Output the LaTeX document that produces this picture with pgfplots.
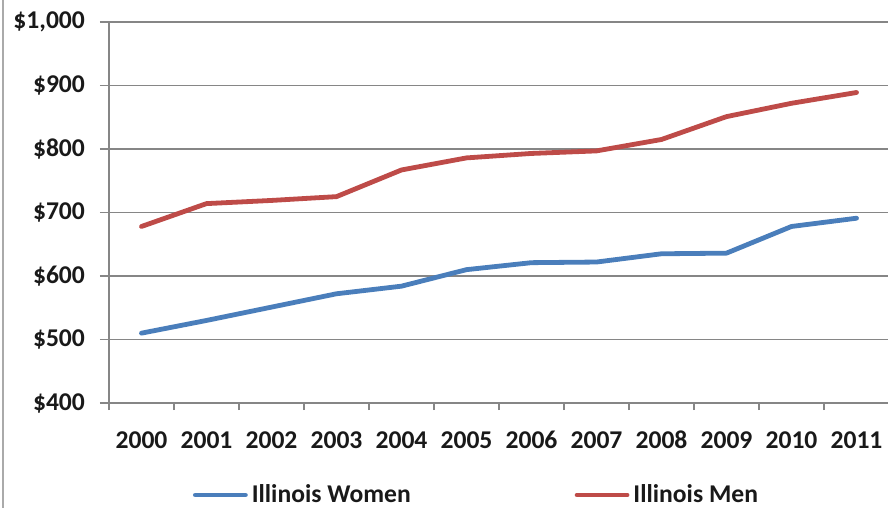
\documentclass[border=0pt]{standalone}
\usepackage{fontspec}
\setmainfont{Carlito}
\usepackage{pgfplots}
\pgfplotsset{compat=1.18}

\definecolor{womenblue}{RGB}{74,126,187}
\definecolor{menred}{RGB}{190,75,72}
\definecolor{gridgray}{RGB}{134,134,134}
\definecolor{txt}{RGB}{25,25,25}

\begin{document}
\begin{tikzpicture}
	\begin{axis}[
		scale only axis,
		width=390pt,
		height=190.5pt,
		xmin=-0.5, xmax=11.5,
		ymin=400, ymax=1000,
		xtick={0,...,11},
		xticklabels={2000,2001,2002,2003,2004,2005,2006,2007,2008,2009,2010,2011},
		minor xtick={-0.5,0.5,...,11.5},
		ytick={400,500,...,1000},
		major x tick style={draw=none},
		minor x tick style={gridgray, line width=0.6pt},
		minor tick length=3.5pt,
		y tick style={gridgray, line width=0.6pt},
		major tick length=4.5pt,
		tick align=outside,
		ymajorgrids=true,
		grid style={gridgray, line width=0.6pt},
		axis x line*=bottom,
		axis y line*=left,
		axis line style={gridgray, line width=0.9pt, -},
		font=\fontsize{12.8}{15}\selectfont\bfseries\color{txt},
		/pgf/number format/assume math mode=true,
		/pgf/number format/1000 sep={,},
		yticklabel={\$\pgfmathprintnumber{\tick}},
		yticklabel style={anchor=east, xshift=-4pt},
		xticklabel style={anchor=base, yshift=-18pt},
		legend style={
			at={(axis description cs:0.4724,-0.2415)},
			anchor=center,
			draw=none,
			fill=none,
			legend columns=2,
			font=\fontsize{12.8}{15}\selectfont\bfseries\color{txt},
			/tikz/every even column/.append style={column sep=80pt},
		},
		legend image code/.code={\draw[#1, line cap=round] (0pt,0pt) -- (25pt,0pt);},
		every axis plot/.append style={line width=2.4pt, line cap=round, line join=round},
		]

		\addplot[womenblue] coordinates {
			(0,510) (1,530) (2,551) (3,572) (4,584) (5,610)
			(6,621) (7,622) (8,635) (9,636) (10,678) (11,691)
		};

		\addplot[menred] coordinates {
			(0,678) (1,714) (2,719) (3,725) (4,767) (5,786)
			(6,793) (7,797) (8,815) (9,851) (10,872) (11,889)
		};

		\legend{Illinois Women, Illinois Men}
	\end{axis}
	\pgfresetboundingbox
	\path[use as bounding box] (-54.5pt,-52.5pt) rectangle (389.5pt,201.5pt);
	\draw[gridgray!70, line width=0.7pt] (-53pt,-52.5pt) -- (-53pt,201.5pt);
\end{tikzpicture}
\end{document}
